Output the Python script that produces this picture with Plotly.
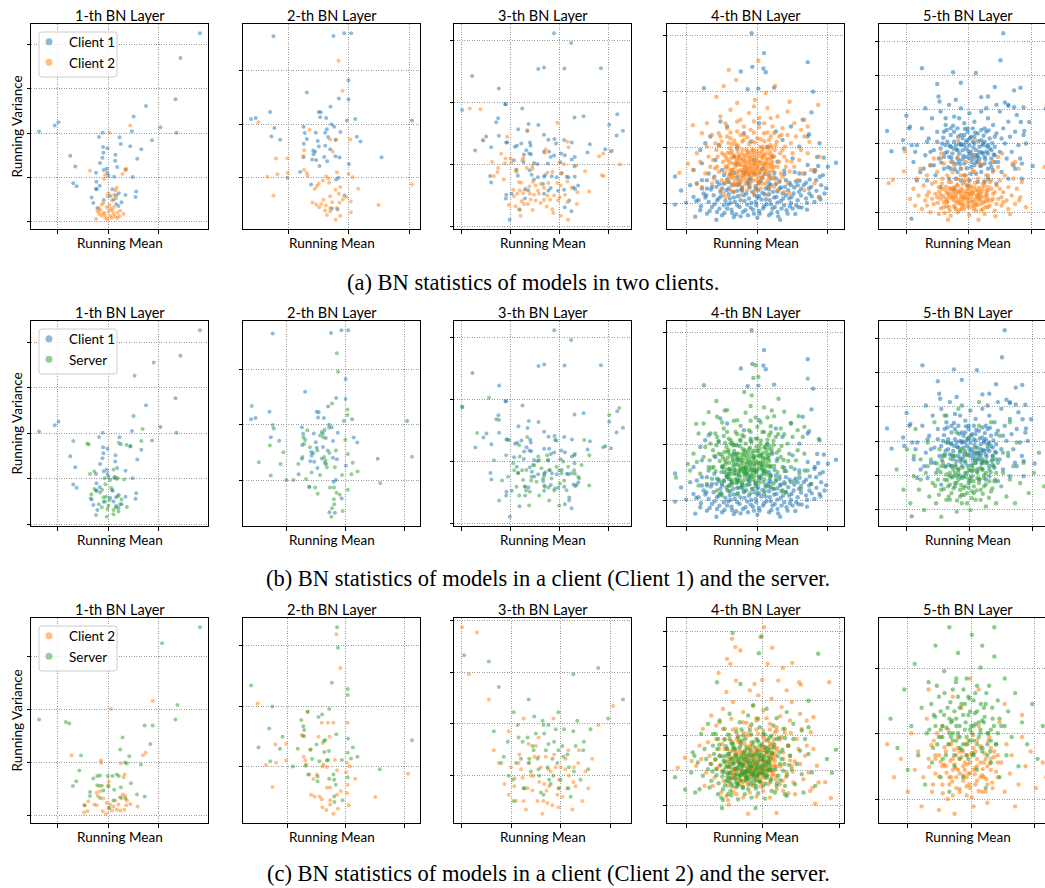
import plotly.graph_objects as go

# ---------------- data: (running mean, running variance), arbitrary units ----------------
# Layer 1
C1_L1 = [(424,562),(366,488),(351,365),(263,345),(226,314),(306,282),(354,265),(221,270),(281,243),(-56,269),
         (-9,287),(2,297),(134,265),(123,253),(184,252),(188,232),(216,225),(249,216),(237,188),(135,223),
         (148,219),(136,206),(172,200),(133,191),(171,182),(126,175),(37,197),(52,165),(146,158),(137,154),
         (177,163),(202,155),(114,146),(148,146),(151,137),(223,133),(168,134),(46,115),(56,106),(115,119),
         (125,107),(114,98),(116,97),(163,97),(182,85),(174,78),(156,77),(202,80),(234,90),(232,74),
         (101,72),(106,56),(137,65),(190,58),(174,53),(181,47),(118,41),(166,66)]
C2A_L1 = [(216,287),(154,266),(96,152),(141,139),(138,128),(193,142),(202,155),(204,158),(176,101),(172,93),
          (151,85),(148,76),(174,69),(136,56),(131,51),(146,43),(158,38),(126,35),(119,31),(124,23),
          (136,27),(151,31),(166,23),(178,27),(186,33),(196,23),(171,15),(161,11),(156,17),(142,12),
          (148,6),(114,8),(131,18),(184,16),(163,33),(154,50),(167,43),(140,22),(168,80),(162,63),(178,11),(122,41)]
SB_L1 = [(286,469),(229,430),(253,276),(46,241),(88,234),(92,231),(205,230),(217,227),(249,241),(182,236),
         (109,153),(96,146),(139,133),(176,131),(198,130),(156,128),(142,116),(166,159),(170,138),(178,134),
         (109,102),(100,87),(98,75),(132,100),(159,105),(163,99),(126,92),(144,80),(136,78),(154,70),
         (178,81),(190,72),(206,50),(122,58),(148,44),(166,41),(173,49),(181,37),(114,27),(146,22),
         (166,29),(186,58),(151,54),(131,49),(141,66)]
C2C_L1 = [(283,287),(159,266),(41,151),(129,138),(129,132),(262,157),(254,151),(188,131),(199,103),(196,96),
          (152,85),(149,74),(116,57),(126,61),(136,43),(146,32),(156,28),(171,38),(194,53),(201,49),
          (206,38),(216,29),(238,23),(91,36),(81,26),(109,28),(116,26),(78,8),(88,11),(144,5),
          (161,13),(176,15),(186,13),(198,15),(166,23),(151,19),(134,11),(181,28),(204,26),(190,43),(124,74),(119,49)]
SC_L1 = [(424,470),(311,430),(357,276),(351,240),(-56,240),(24,234),(34,230),(259,225),(283,225),(193,195),
         (276,179),(186,165),(213,148),(201,133),(206,130),(248,128),(69,150),(64,113),(55,86),(45,74),
         (106,93),(118,99),(126,100),(149,99),(163,99),(176,103),(182,99),(118,76),(131,75),(152,74),
         (168,65),(188,71),(218,81),(236,53),(259,48),(96,59),(96,49),(126,44),(136,63),(186,46),
         (202,43),(166,38),(154,19),(79,26)]

# Layer 2
C1_L2 = [(-44,421),(136,422),(168,430),(189,430),(181,290),(56,254),(152,236),(181,233),(127,211),(92,196),
         (98,195),(96,180),(114,178),(176,170),(201,175),(-111,175),(-97,178),(-54,196),(371,170),(130,159),
         (138,152),(-41,148),(46,152),(116,144),(157,136),(50,133),(83,134),(111,134),(-50,123),(-24,113),
         (56,115),(89,109),(120,121),(142,112),(206,122),(217,108),(47,101),(92,93),(111,95),(126,85),
         (75,81),(81,77),(76,70),(108,62),(142,64),(154,60),(280,61),(46,61),(72,54),(84,53),
         (117,49),(182,41),(94,35),(36,17),(-2,0),(144,-5),(151,0),(69,-20),(169,-53),(131,-92),(148,-94)]
C2A_L2 = [(151,348),(163,259),(-89,165),(64,143),(126,114),(144,114),(186,114),(-36,57),(-2,58),(48,82),
          (46,65),(134,78),(-62,3),(-32,10),(-1,15),(48,24),(56,14),(59,6),(114,4),(121,-2),
          (146,16),(181,11),(193,1),(92,-18),(86,-25),(123,-15),(80,-34),(104,-8),(142,-36),(152,-48),
          (126,-55),(106,-66),(73,-74),(84,-80),(93,-88),(99,-78),(113,-83),(132,-73),(154,-74),(164,-65),
          (175,-58),(188,-71),(210,-33),(-44,-54),(271,-81),(371,-20),(111,-98),(126,-101),(116,-111),(146,-90),
          (142,-125),(156,-113),(188,-103),(126,-90),(156,-28)]
SB_L2 = [(154,364),(158,311),(139,220),(187,203),(187,187),(-109,213),(-44,158),(63,143),(107,138),(130,150),
         (51,123),(53,104),(102,128),(112,123),(-53,99),(-11,80),(-87,51),(-20,46),(-50,13),(20,0),
         (35,46),(48,66),(59,3),(69,-19),(76,22),(87,-21),(95,-39),(94,85),(102,15),(115,66),
         (119,56),(121,46),(123,37),(133,-21),(145,-21),(151,85),(153,-36),(163,-42),(170,15),(180,116),
         (188,75),(188,-28),(203,50),(199,17),(218,25),(288,-8),(386,67),(145,-55),(146,-69),(139,-81),
         (137,-105),(172,-89),(131,78),(148,37),(71,94)]
C2C_L2 = [(152,348),(164,259),(-91,166),(64,144),(107,115),(126,115),(143,115),(187,115),(-36,58),(-3,60),
          (45,83),(53,80),(71,44),(97,78),(110,62),(131,78),(-65,4),(-34,10),(-3,16),(51,26),
          (56,16),(59,5),(112,5),(123,-1),(148,17),(185,10),(193,1),(69,-21),(92,-21),(109,0),
          (81,-33),(154,-10),(182,-15),(210,-32),(-45,-54),(272,-80),(373,-19),(74,-74),(85,-79),(100,-79),
          (107,-86),(123,-56),(133,-89),(154,-74),(166,-65),(185,-70),(190,-102),(109,-107),(121,-114),(133,-100),
          (143,-124),(157,-111),(133,-55),(187,-48)]
SC_L2 = [(154,366),(157,312),(138,220),(187,204),(187,188),(-111,213),(-45,158),(130,151),(108,137),(97,130),
         (63,144),(44,122),(50,106),(53,96),(50,80),(-55,100),(-14,78),(-88,50),(-22,47),(-52,14),
         (18,0),(33,47),(57,2),(65,-21),(77,20),(94,-26),(94,-39),(91,58),(100,14),(114,67),
         (118,70),(115,38),(126,17),(130,-32),(143,-21),(152,85),(145,-35),(150,-48),(169,17),(188,74),
         (187,36),(187,-28),(203,50),(197,21),(217,26),(286,-7),(385,69),(145,-79),(146,-93),(171,-89),
         (129,41),(123,16),(73,45)]

# Layer 3
C1_L3 = [(278,576),(329,547),(33,449),(231,470),(248,474),(309,471),(418,472),(113,412),(132,365),(134,365),
         (183,352),(3,348),(339,325),(366,329),(467,335),(111,323),(105,311),(202,306),(231,303),(171,290),
         (198,285),(248,274),(443,304),(75,269),(66,257),(113,271),(135,251),(138,251),(161,238),(167,241),
         (180,248),(206,251),(208,242),(261,259),(279,261),(284,248),(308,258),(331,251),(385,246),(465,272),
         (484,286),(90,237),(42,227),(195,228),(188,215),(204,218),(209,216),(248,223),(263,223),(268,208),
         (278,212),(299,218),(310,213),(340,208),(331,200),(378,221),(431,231),(448,225),(158,198),(187,193),
         (218,190),(228,187),(259,188),(297,192),(339,180),(87,151),(90,132),(166,170),(170,152),(205,168),
         (211,155),(218,141),(230,147),(248,149),(251,153),(271,150),(286,147),(301,160),(316,149),(321,147),
         (340,149),(135,95),(134,84),(151,98),(191,111),(201,108),(245,127),(268,115),(290,107),(308,110),
         (336,117),(350,123),(341,112),(323,78),(330,46),(310,58),(174,52),(145,21),(191,84),(248,98),(261,108)]
C2A_L3 = [(26,352),(58,350),(288,310),(198,287),(138,268),(65,258),(120,217),(133,203),(131,189),(148,203),
          (151,191),(186,205),(183,198),(250,220),(253,231),(318,253),(321,237),(295,191),(308,186),(413,210),
          (425,218),(451,226),(475,185),(93,193),(111,175),(109,163),(98,151),(128,141),(163,168),(166,163),
          (196,175),(213,181),(214,173),(258,161),(273,163),(300,158),(345,182),(371,165),(421,153),(426,151),
          (173,133),(180,131),(156,110),(176,108),(204,120),(215,133),(223,123),(238,128),(248,115),(261,130),
          (288,130),(298,123),(318,135),(331,115),(348,103),(383,105),(158,91),(168,98),(186,100),(206,98),
          (218,95),(233,98),(258,93),(278,93),(311,95),(208,81),(181,76),(200,68),(223,78),(248,80),
          (266,80),(290,78),(318,73),(346,68),(143,65),(163,61),(176,50),(188,68),(214,50),(256,60),
          (273,52),(276,41),(298,33),(320,21),(178,33),(295,88),(238,71),(230,108),(193,113)]
SB_L3 = [(2,348),(47,270),(83,375),(113,309),(143,249),(173,234),(197,258),(233,189),(263,159),(293,159),
         (338,204),(383,204),(425,228),(443,324),(473,345),(182,159),(209,129),(248,114),(278,99),(308,129),
         (233,84),(173,84),(122,129),(98,189),(293,54),(323,69),(353,135),(158,159),(218,174),(257,204),
         (281,249),(368,249),(134,204),(194,99),(263,69),(248,144),(338,159),(113,69),(383,114),(203,54),
         (140,140),(155,180),(165,110),(175,200),(185,130),(195,160),(205,95),(215,175),(225,125),(240,165),
         (250,110),(260,190),(270,135),(285,170),(295,120),(305,185),(315,100),(330,150),(345,115),(360,175),
         (210,140),(230,200),(245,135),(265,160),(280,105),(300,150),(320,170),(190,110),(170,150),(350,140)]
C2C_L3 = [(2,471),(47,459),(23,360),(83,300),(143,225),(188,255),(233,210),(278,255),(323,180),(413,240),
          (458,285),(173,150),(218,120),(263,135),(293,90),(338,105),(143,75),(188,60),(248,60),(293,45),
          (113,150),(98,180),(353,150),(383,90),(233,165),(257,84),(203,195),(161,114),(314,135),
          (130,100),(150,140),(165,60),(175,170),(185,115),(195,40),(205,150),(215,85),(225,190),(235,105),
          (245,30),(255,165),(265,95),(275,50),(285,140),(295,110),(305,70),(315,160),(325,120),(335,40),
          (345,95),(355,180),(365,60),(375,130),(395,160),(210,120),(230,60),(250,100),(270,130),(290,75),
          (240,140),(260,55),(280,170),(200,90),(220,165),(300,140),(320,90),(180,135),(160,95),(340,140)]
SC_L3 = [(8,405),(83,390),(113,330),(158,270),(203,300),(248,240),(293,270),(338,360),(413,375),(443,255),
         (488,300),(173,210),(218,180),(263,195),(308,165),(128,165),(233,135),(278,120),(323,90),(188,90),
         (143,120),(248,75),(293,180),(368,180),(98,225),(203,150),(263,240),(338,225),(158,60),(383,135),
         (120,150),(140,200),(155,110),(170,240),(180,160),(190,90),(200,210),(210,130),(220,260),(230,160),
         (240,80),(250,220),(260,140),(270,100),(280,200),(290,150),(300,110),(310,230),(320,170),(330,70),
         (340,130),(350,250),(360,110),(370,200),(390,230),(215,190),(235,120),(255,180),(275,160),(295,90),
         (245,250),(265,110),(285,230),(205,160),(225,220),(305,190),(325,140),(185,200),(165,150),(345,190)]

# Layer 4
C1_L4 = [(193,508),(230,449),(360,422),(195,408),(228,403),(235,392),(161,394),(51,344),(181,341),(376,334),
         (213,343),(260,346),(371,272),(364,207),(444,122),(408,137),(388,139),(391,112),(-35,81),(-17,39),
         (-35,-3),(-2,3),(25,-39),(88,-48),(278,-48),(358,-18),(333,-11),(323,-31),
         (40,-20),(60,-30),(75,-10),(90,-25),(105,-35),(120,-15),(135,-28),(150,-5),(160,-38),(175,-20),
         (190,-12),(200,-30),(215,-22),(230,-8),(245,-35),(255,-15),(270,-25),(290,-5),(300,-30),(315,-15),
         (140,-40),(210,-42),(180,-3),(250,-2),(110,-5),
         (20,20),(35,10),(50,30),(65,5),(80,25),(95,15),(100,35),(115,8),(125,28),(140,18),
         (150,38),(160,10),(170,25),(185,15),(195,35),(205,5),(215,22),(225,32),(235,12),(245,28),
         (260,18),(270,36),(280,8),(295,25),(305,15),(318,30),(330,10),(340,24),(355,15),(365,30),
         (380,5),(395,20),(310,2),(130,2),(270,3),
         (10,55),(30,60),(45,45),(60,70),(75,50),(90,65),(105,45),(120,72),(135,55),(150,78),
         (165,48),(180,62),(190,75),(205,52),(220,68),(235,45),(250,75),(265,58),(280,48),(295,70),
         (310,55),(325,66),(340,44),(355,62),(370,50),(385,70),(400,55),(415,46),
         (20,100),(45,120),(65,90),(85,130),(105,100),(130,88),(150,120),(175,95),(200,130),(225,105),
         (245,85),(270,125),(290,98),(315,135),(335,90),(360,115),(380,95),(405,85),(420,110),(140,140),(255,140),
         (40,160),(70,200),(95,175),(120,230),(150,165),(170,210),(190,185),(215,240),(240,170),(265,215),
         (285,190),(310,230),(335,170),(360,200),(395,180),(345,250),(100,245),(55,180),
         (28,8),(42,-8),(55,18),(68,-22),(72,42),(83,-2),(88,50),(97,-15),(102,22),(112,-28),
         (118,40),(123,-3),(128,15),(133,-18),(138,35),(143,5),(147,-32),(152,22),(157,-10),(162,42),
         (167,-25),(172,8),(177,30),(182,-35),(187,48),(192,2),(197,-18),(202,25),(207,-5),(212,40),
         (217,-30),(222,12),(227,-15),(232,28),(237,-2),(242,50),(247,10),(252,-28),(257,35),(262,-10),
         (267,20),(272,-38),(277,45),(282,-15),(287,15),(292,50),(297,-20),(302,40),(307,-8),(312,20),
         (320,48),(326,-5),(334,35),(342,-12),(348,55),(358,2),(364,45),(372,22),(386,38),(398,12),
         (410,30),(45,70),(58,25),(82,80),(97,58),(111,85),(126,64),(141,92),(156,60),(171,86),
         (186,58),(201,90),(216,62),(231,88),(246,60),(261,92),(276,65),(291,88),(306,62),(321,94),
         (336,68),(351,90),(366,72),(381,100),(396,80),(125,45),(165,38),(205,44),(245,42),(285,30),
         (330,55),(90,10),(60,45),(185,70),(225,78),(265,75),(150,55),(110,60),(210,18),(250,55)]
C2A_L4 = [(213,426),(125,399),(147,369),(110,351),(263,351),(88,319),(306,304),(391,294),(203,309),(150,300),
          (235,330),(-22,92),(3,119),(18,234),(30,60),(393,19),(383,99),(365,184),(395,140),(350,250),
          (115,60),(125,80),(135,100),(145,120),(155,140),(165,160),(175,70),(185,90),(195,110),(205,130),
          (215,150),(225,170),(235,60),(245,80),(255,100),(120,130),(130,150),(140,75),(150,95),(160,115),
          (170,135),(180,155),(190,65),(200,85),(210,105),(220,125),(230,145),(240,165),(250,120),(260,140),
          (118,105),(128,165),(138,58),(148,170),(158,55),(168,95),(178,118),(188,140),(198,160),(208,70),
          (218,92),(228,112),(238,135),(248,155),(258,75),(112,145),(122,112),(132,90),(142,140),(152,68),
          (162,82),(172,145),(182,108),(192,128),(202,148),(212,58),(222,78),(232,98),(242,118),(252,168),
          (173,109),(186,124),(164,100),(196,96),(154,130),(206,116),(144,110),(226,136),(236,88),(176,88),
          (55,90),(65,140),(75,60),(85,180),(90,110),(100,40),(100,200),(105,150),(110,30),(60,170),
          (70,110),(80,75),(95,210),(270,40),(280,90),(290,140),(300,60),(310,180),(320,110),(330,70),
          (275,200),(285,160),(295,110),(305,30),(315,150),(325,200),(335,130),(265,175),(250,200),(230,210),
          (210,195),(190,220),(170,205),(150,215),(130,195),(120,225),(140,35),(160,25),(180,40),(200,30),
          (220,45),(240,25),(260,50),(130,40),(115,20),(195,185),(215,228),(255,230),(285,225),(165,185),
          (135,178),(245,190),(345,90),(340,160),(350,40),(45,50),(40,125),(275,125),(265,60),(290,35),
          (100,260),(130,280),(160,250),(185,270),(215,255),(240,285),(270,260),(300,275),(320,240),(340,220),
          (200,290),(60,240),(75,205),(360,230),(45,210),(30,150),(20,100),(370,100),(380,60),(360,150),(350,200),
          (113,92),(117,138),(121,66),(124,181),(127,124),(131,77),(134,157),(137,101),(141,188),(143,63),
          (147,131),(151,86),(153,172),(157,118),(159,71),(163,148),(166,92),(169,190),(171,124),(174,58),
          (177,161),(179,103),(183,79),(185,177),(187,133),(191,96),(193,150),(197,69),(199,118),(203,182),
          (206,88),(209,140),(211,110),(214,64),(217,168),(219,99),(223,155),(226,77),(229,121),(231,186),
          (234,104),(237,150),(241,70),(243,132),(247,94),(249,175),(253,112),(256,143),(259,83),(262,160),
          (116,110),(129,100),(139,145),(149,115),(161,135),(168,78),(181,95),(189,116),(195,160),(201,104),
          (213,126),(221,140),(233,115),(245,108),(255,125),(139,85),(151,155),(165,128),(179,142),(191,84),
          (205,98),(218,118),(227,163),(239,96),(251,136),(122,152),(136,120),(156,98),(170,112),(184,152),
          (198,138),(212,80),(224,102),(236,124),(248,146),(260,110),(128,88),(146,178),(162,66),(176,128),
          (188,104),(202,122),(216,92),(228,144),(242,168),(132,135),(154,143),(172,100),(186,88),(208,156),
          (78,130),(88,160),(96,95),(104,185),(108,125),(270,110),(278,150),(286,80),(298,128),(306,95),
          (268,185),(282,205),(300,205),(104,70),(92,140),(84,105),(98,172),(276,70),(292,170),(312,125),
          (160,205),(180,198),(200,212),(220,192),(240,212),(130,212),(120,200),(260,210),(170,230),(200,245),
          (230,240),(150,245),(115,240),(250,255),(145,55),(165,45),(185,52),(205,42),(225,60),(245,48)]
SB_L4 = [(205,404),(213,369),(198,366),(360,364),(171,324),(193,314),(88,297),(65,264),(273,304),(333,252),
         (393,184),(3,109),(-32,69),(28,229),(253,269),(113,269),
         (105,50),(118,72),(128,95),(138,118),(148,140),(158,162),(168,60),(178,82),(188,104),(198,126),
         (208,148),(218,168),(228,55),(238,78),(248,100),(112,122),(122,145),(132,62),(142,84),(152,106),
         (162,128),(172,150),(182,48),(192,70),(202,92),(212,114),(222,136),(232,158),(242,125),(252,145),
         (108,98),(118,160),(128,45),(138,165),(148,52),(158,88),(168,112),(178,135),(188,158),(198,62),
         (208,85),(218,105),(228,128),(238,150),(248,68),(102,138),(115,108),(125,80),(135,132),(145,64),
         (155,76),(165,140),(175,100),(185,120),(195,142),(205,50),(215,72),(225,92),(235,112),(245,160),
         (168,99),(180,115),(158,95),(190,90),(150,125),(200,110),(140,102),(220,130),(230,82),(170,80),
         (40,80),(50,130),(60,50),(70,170),(80,100),(90,30),(90,190),(95,140),(100,20),(55,160),
         (65,100),(75,65),(85,200),(260,35),(270,85),(280,130),(290,55),(300,170),(310,100),(320,60),
         (265,190),(275,150),(285,100),(295,25),(305,140),(315,190),(325,120),(258,165),(245,195),(225,205),
         (205,185),(185,210),(165,195),(145,205),(125,185),(110,215),(130,28),(150,18),(170,30),(190,22),
         (210,35),(230,20),(250,40),(120,32),(105,15),(190,178),(210,220),(250,222),(280,215),(160,178),
         (130,170),(240,182),(335,80),(330,150),(340,35),(35,45),(30,115),(268,118),(258,50),(282,28),
         (90,250),(120,270),(150,240),(175,262),(205,248),(230,278),(260,252),(290,265),(310,232),(330,210),
         (190,282),(50,230),(65,195),(350,220),(35,200),(20,140),(10,90),(360,90),(370,50),(350,140),(345,190),
         (103,85),(107,130),(111,58),(114,172),(117,115),(121,70),(124,150),(127,94),(131,180),(133,55),
         (137,124),(141,79),(143,165),(147,110),(149,63),(153,140),(156,85),(159,182),(161,117),(164,51),
         (167,154),(169,96),(173,72),(175,170),(177,126),(181,89),(183,143),(187,62),(189,111),(193,175),
         (196,81),(199,133),(201,103),(204,57),(207,161),(209,92),(213,148),(216,70),(219,114),(221,179),
         (224,97),(227,143),(231,63),(233,125),(237,87),(239,168),(243,105),(246,136),(249,76),(252,153),
         (106,103),(119,93),(129,138),(139,108),(151,128),(158,71),(171,88),(179,109),(185,153),(191,97),
         (203,119),(211,133),(223,108),(235,101),(245,118),(129,78),(141,148),(155,121),(169,135),(181,77),
         (195,91),(208,111),(217,156),(229,89),(241,129),(112,145),(126,113),(146,91),(160,105),(174,145),
         (188,131),(202,73),(214,95),(226,117),(238,139),(250,103),(118,81),(136,171),(152,59),(166,121),
         (178,97),(192,115),(206,85),(218,137),(232,161),(122,128),(144,136),(162,93),(176,81),(198,149),
         (68,120),(78,150),(86,88),(94,178),(98,118),(260,103),(268,143),(276,73),(288,121),(296,88),
         (258,178),(272,198),(290,198),(94,63),(82,133),(74,98),(88,165),(266,63),(282,163),(302,118),
         (150,198),(170,191),(190,205),(210,185),(230,205),(120,205),(110,193),(250,203),(160,223),(190,238),
         (220,233),(140,238),(105,233),(240,248),(135,48),(155,38),(175,45),(195,35),(215,53),(235,41)]
C2C_L4 = [(232,533),(222,504),(137,499),(147,474),(257,472),(162,464),(122,439),(317,427),(243,424),(132,424),
          (289,412),(97,397),(427,369),(337,369),(342,362),(275,374),(227,376),(204,364),(149,374),(-25,114),
          (-3,144),(17,134),(432,24),(415,71),(377,54),(385,7),(185,-23),(270,-21),(127,4),
          (125,60),(135,85),(145,110),(155,135),(165,160),(175,185),(185,70),(195,95),(205,120),(215,145),
          (225,170),(235,195),(245,65),(255,90),(265,115),(130,140),(140,165),(150,80),(160,105),(170,130),
          (180,155),(190,180),(200,60),(210,85),(220,110),(230,135),(240,160),(250,185),(260,140),(270,165),
          (128,115),(138,190),(148,55),(158,195),(168,62),(178,100),(188,125),(198,150),(208,175),(218,72),
          (228,98),(238,122),(248,148),(258,172),(268,80),(122,170),(132,125),(142,100),(152,158),(162,75),
          (172,92),(182,168),(192,115),(202,138),(212,162),(222,58),(232,84),(242,106),(252,130),(262,198),
          (197,114),(210,130),(186,108),(220,100),(176,140),(230,122),(166,118),(250,150),(260,95),(200,95),
          (60,100),(70,150),(80,60),(90,200),(100,120),(105,40),(110,230),(115,170),(120,30),(65,190),
          (75,125),(85,85),(100,250),(290,45),(300,100),(310,150),(320,70),(330,200),(340,125),(350,80),
          (295,230),(305,180),(315,120),(325,35),(335,170),(345,230),(355,150),(285,205),(270,235),(250,245),
          (230,225),(210,255),(190,235),(170,250),(150,230),(135,260),(150,35),(170,25),(190,40),(210,28),
          (230,45),(250,25),(270,50),(140,42),(125,18),(215,215),(240,262),(280,268),(310,255),(180,215),
          (155,210),(265,220),(365,100),(360,180),(370,45),(55,60),(45,140),(290,140),(280,65),(305,38),
          (110,290),(140,310),(170,280),(200,300),(230,285),(255,320),(285,295),(315,310),(340,275),(360,255),
          (215,330),(75,270),(90,240),(380,265),(50,230),(40,180),(30,120),(390,120),(395,70),(380,170),
          (372,220),(190,345),(120,340),(300,345),
          (123,98),(127,147),(131,72),(134,193),(137,131),(141,83),(144,166),(147,110),(151,200),(153,68),
          (157,139),(161,93),(163,182),(167,125),(169,77),(173,158),(176,101),(179,205),(181,133),(184,63),
          (187,171),(189,111),(193,87),(195,190),(197,143),(201,104),(203,160),(207,75),(209,127),(213,196),
          (216,96),(219,150),(221,118),(224,70),(227,180),(229,108),(233,166),(236,85),(239,131),(241,199),
          (244,112),(247,162),(251,78),(253,142),(257,102),(259,187),(263,121),(266,154),(269,90),(272,173),
          (126,118),(139,108),(149,155),(159,123),(171,145),(178,85),(191,103),(199,125),(205,172),(211,112),
          (223,136),(231,150),(243,124),(255,116),(265,134),(149,93),(161,166),(175,137),(189,152),(201,91),
          (215,106),(228,128),(237,175),(249,104),(261,146),(132,163),(146,130),(166,106),(180,120),(194,163),
          (208,148),(222,87),(234,110),(246,133),(258,158),(270,118),(138,95),(156,191),(172,72),(186,137),
          (198,112),(212,131),(226,99),(238,154),(252,180),(142,145),(164,154),(182,108),(196,94),(218,168),
          (88,140),(98,170),(106,102),(114,200),(118,135),(282,118),(290,160),(298,86),(310,136),(318,102),
          (280,198),(294,218),(312,218),(112,75),(100,150),(92,112),(108,184),(288,75),(304,180),(324,133),
          (170,220),(190,212),(210,228),(230,205),(250,228),(140,228),(130,212),(270,225),(180,248),(210,262)]
SC_L4 = [(139,516),(225,506),(217,456),(394,454),(92,369),(162,364),(365,314),(-33,86),(-3,49),(447,168),
         (435,99),(107,-6),(207,-6),(27,40),(20,160),(420,140),
         (110,50),(120,75),(130,100),(140,125),(150,150),(160,175),(170,55),(180,80),(190,105),(200,130),
         (210,155),(220,180),(230,60),(240,85),(250,110),(115,130),(125,155),(135,65),(145,90),(155,115),
         (165,140),(175,165),(185,50),(195,75),(205,100),(215,125),(225,150),(235,175),(245,130),(255,155),
         (112,100),(122,170),(132,45),(142,172),(152,58),(162,92),(172,118),(182,142),(192,168),(202,66),
         (212,90),(222,112),(232,136),(242,160),(252,72),(108,148),(118,115),(128,85),(138,140),(148,70),
         (158,82),(168,150),(178,104),(188,128),(198,150),(208,52),(218,76),(228,96),(238,118),(248,168),
         (177,104),(190,120),(168,98),(200,94),(160,128),(210,112),(150,106),(230,140),(240,92),(180,86),
         (50,90),(60,140),(70,55),(80,180),(90,110),(95,35),(95,200),(100,150),(105,25),(55,170),
         (65,110),(75,75),(88,215),(265,40),(275,90),(285,140),(295,60),(305,180),(315,110),(325,65),
         (270,200),(280,160),(290,105),(300,30),(310,150),(320,200),(330,125),(262,175),(250,205),(230,215),
         (210,200),(190,225),(170,210),(150,220),(130,200),(115,230),(135,32),(155,20),(175,35),(195,25),
         (215,38),(235,22),(255,45),(125,35),(110,18),(200,190),(220,235),(260,240),(290,230),(165,195),
         (140,185),(245,195),(345,95),(340,165),(350,40),(40,50),(35,130),(280,125),(270,60),(295,35),
         (100,255),(130,275),(160,250),(185,270),(215,260),(240,290),(270,262),(300,280),(320,245),(345,225),
         (200,300),(65,245),(80,215),(365,235),(45,215),(25,150),(15,100),(375,100),(385,60),(365,155),(355,200),
         (108,88),(112,135),(116,62),(119,178),(122,120),(126,73),(129,155),(132,98),(136,186),(138,58),
         (142,128),(146,82),(148,170),(152,114),(154,66),(158,145),(161,90),(164,188),(166,121),(169,54),
         (172,159),(174,100),(178,76),(180,175),(182,131),(186,93),(188,148),(192,65),(194,116),(198,180),
         (201,85),(204,138),(206,107),(209,60),(212,166),(214,96),(218,152),(221,73),(224,119),(226,184),
         (229,101),(232,148),(236,67),(238,129),(242,91),(244,173),(248,109),(251,141),(254,80),(257,158),
         (111,106),(124,96),(134,142),(144,112),(156,132),(163,75),(176,92),(184,113),(190,157),(196,101),
         (208,123),(216,137),(228,112),(240,105),(250,122),(134,82),(146,152),(160,125),(174,139),(186,81),
         (200,95),(213,115),(222,160),(234,93),(246,133),(117,149),(131,117),(151,95),(165,109),(179,149),
         (193,135),(207,77),(219,99),(231,121),(243,143),(255,107),(123,85),(141,175),(157,63),(171,125),
         (183,101),(197,119),(211,89),(223,141),(237,165),(127,132),(149,140),(167,97),(181,85),(203,153),
         (73,125),(83,155),(91,92),(99,183),(103,122),(265,108),(273,148),(281,77),(293,125),(301,92),
         (263,183),(277,203),(295,203),(97,68),(87,138),(79,103),(93,170),(271,68),(287,168),(307,122),
         (155,205),(175,198),(195,213),(215,192),(235,213),(125,213),(115,198),(255,210),(165,228),(195,243)]

# Layer 5
C1_L5 = [(285,533),(277,453),(45,429),(137,417),(204,415),(90,382),(160,386),(260,373),(317,363),(336,371),
         (220,343),(240,345),(94,345),(97,330),(145,335),(55,310),(290,327),(300,317),(317,313),(345,312),
         (411,309),(-58,242),(-45,182),(-1,288),(7,250),(337,269),(362,269),(347,242),(352,205),(340,145),
         (372,138),(14,-19),(-8,190),(-11,215),
         (20,150),(30,200),(40,120),(45,250),(55,170),(60,95),(65,220),(70,140),(75,280),(80,185),
         (85,110),(90,240),(95,160),(100,300),(100,75),(105,205),(110,130),(115,260),(120,180),(125,100),
         (125,320),(130,230),(135,150),(140,285),(140,70),(145,200),(150,120),(150,250),(155,175),(160,310),
         (160,95),(165,220),(170,145),(170,265),(175,190),(180,80),(180,240),(185,160),(185,295),(190,115),
         (195,210),(200,140),(200,270),(205,185),(210,90),(210,235),(215,160),(220,300),(220,120),(225,205),
         (230,250),(230,145),(235,180),(240,100),(240,280),(245,220),(250,160),(255,125),(255,260),(260,195),
         (265,85),(265,235),(270,150),(275,300),(275,180),(280,120),(285,250),(290,205),(295,160),(300,100),
         (300,270),(305,225),(310,180),(315,140),(320,240),(325,290),(330,200),(335,160),(120,210),(135,175),
         (145,145),(155,205),(165,185),(175,165),(185,200),(195,170),(205,150),(215,195),(225,175),(110,165),
         (130,195),(150,160),(170,200),(190,180),(210,170),(230,210),(250,185),(140,240),(160,230),(180,215),
         (200,225),(220,245),(240,200),(260,170),(280,220),(100,190),(90,210),(80,140),(70,180),(60,210),
         (50,130),(115,280),(155,280),(195,250),(235,310),(265,320),(300,320),(130,130),(160,130),(190,135),
         (220,140),(250,135),(170,110),(205,115),(240,130),(145,100),(185,95),(230,90),(30,95),(15,200),
         (320,130),(340,100),(345,230),(10,255),(25,180),
         (102,148),(108,222),(113,176),(118,245),(122,134),(127,198),(132,162),(137,258),(142,128),(147,187),
         (152,226),(157,143),(162,203),(167,168),(172,248),(177,131),(182,182),(187,221),(192,149),(197,193),
         (202,237),(207,162),(212,212),(217,138),(222,178),(227,228),(232,158),(237,196),(242,244),(247,146),
         (252,206),(257,172),(125,165),(140,210),(155,152),(170,230),(185,172),(200,205),(215,180),(230,165),
         (245,190),(138,190),(165,158),(190,225),(210,150),(235,240),(160,200),(180,250),(205,170),(225,200),
         (115,200),(130,250),(150,185),(175,210),(195,160),(220,215),(240,175),(260,225),(110,240),(260,150)]
C2A_L5 = [(-53,87),(-41,97),(-8,122),(-5,182),(407,135),(417,65),(122,-22),(212,-22),(262,-12),(352,15),
          (332,35),(102,175),(152,215),(202,215),(282,175),(312,145),
          (10,40),(20,70),(25,20),(30,100),(35,50),(40,130),(45,10),(50,80),(55,35),(60,110),
          (65,60),(70,0),(70,140),(75,85),(80,25),(85,55),(90,120),(95,-5),(95,75),(100,40),
          (105,100),(110,15),(110,145),(115,65),(120,30),(125,90),(130,50),(130,-10),(135,120),(140,20),
          (140,75),(145,45),(150,100),(150,0),(155,60),(160,30),(160,130),(165,85),(170,10),(170,55),
          (175,110),(180,35),(180,70),(185,-8),(185,95),(190,50),(195,20),(195,125),(200,75),(205,40),
          (205,5),(210,100),(215,60),(220,25),(220,140),(225,85),(230,45),(230,-5),(235,110),(240,65),
          (240,15),(245,90),(250,35),(255,120),(255,55),(260,5),(265,80),(270,40),(270,135),(275,95),
          (280,20),(285,60),(290,110),(295,35),(300,75),(305,-5),(310,50),(315,100),(320,25),(325,70),
          (330,130),(335,45),(340,90),(120,55),(130,70),(140,35),(150,80),(160,45),(170,90),(180,55),
          (190,75),(200,30),(210,65),(220,50),(230,80),(240,40),(250,70),(115,40),(135,60),(155,25),
          (175,45),(195,60),(215,35),(235,55),(125,15),(145,10),(165,20),(185,15),(205,25),(225,10),
          (245,20),(105,70),(165,65),(210,45),(260,60),(90,45),(280,45),(60,20),(300,10),(175,150),
          (215,150),(130,150),(255,150),(100,160),(150,165),(200,170),(270,165),(80,160),(320,150),
          (92,28),(96,62),(101,12),(104,85),(108,47),(112,-2),(116,76),(119,33),(123,58),(127,5),
          (131,90),(134,41),(138,67),(142,14),(146,52),(149,82),(153,36),(157,6),(161,70),(164,48),
          (168,24),(172,95),(176,62),(179,18),(183,42),(187,80),(191,31),(195,55),(198,9),(202,88),
          (206,50),(210,22),(214,73),(218,40),(222,62),(226,30),(229,92),(233,16),(237,50),(241,75),
          (118,18),(128,72),(137,48),(148,30),(158,58),(166,38),(177,80),(186,56),(194,38),(203,66),
          (212,54),(224,72),(232,32),(124,44),(144,60),(163,12),(182,28),(201,18),(220,6),(239,34),
          (100,52),(110,30),(150,65),(170,42),(190,65),(215,48),(235,65),(255,40),(265,25),(275,70),
          (285,30),(60,50),(75,40),(85,90),(250,95),(160,110),(200,120),(120,110),(240,110),(140,140)]
SB_L5 = [(-30,120),(-10,60),(0,180),(10,20),(20,100),(25,240),(35,60),(40,150),(50,0),(55,110),
         (60,200),(65,40),(70,150),(75,80),(80,260),(85,20),(90,120),(95,180),(100,60),(100,-20),
         (105,140),(110,90),(115,30),(120,200),(125,110),(130,50),(135,160),(140,80),(145,-5),(145,230),
         (150,120),(155,60),(160,180),(160,20),(165,100),(170,140),(175,50),(180,210),(180,90),(185,0),
         (190,130),(195,70),(200,170),(200,30),(205,110),(210,250),(215,60),(220,150),(225,95),(230,10),
         (235,190),(240,120),(245,55),(250,160),(255,85),(260,20),(265,140),(270,220),(275,70),(280,110),
         (290,40),(295,170),(300,90),(310,130),(315,20),(320,200),(330,80),(340,140),(355,50),(370,110),
         (385,170),(400,70),(120,70),(130,130),(150,90),(170,70),(190,100),(210,80),(230,140),(140,110),
         (160,150),(180,120),(200,140),(220,120),(110,160),(125,30),(175,20),(215,30),(260,110),(280,170),
         (90,90),(60,130),(240,85),(135,100),(155,40),(195,50),(245,260),(150,300),(210,320),(110,280),
         (300,260),(40,90),(20,160),
         (82,72),(87,138),(93,45),(98,112),(104,160),(108,62),(113,128),(117,88),(122,40),(127,152),
         (131,96),(136,64),(141,135),(146,28),(150,108),(154,172),(158,74),(163,126),(167,44),(171,98),
         (176,162),(180,66),(185,118),(189,35),(194,86),(198,150),(203,58),(207,122),(212,92),(216,168),
         (221,48),(226,104),(230,76),(235,140),(239,36),(244,112),(249,64),(253,130),(258,90),(145,80),
         (125,75),(135,120),(155,100),(165,65),(175,110),(185,85),(195,120),(205,95),(215,125),(225,70),
         (115,105),(140,160),(170,175),(200,185),(230,110),(100,130),(190,55),(160,45),(220,145),(250,150)]
C2C_L5 = [(-60,150),(-40,60),(-20,110),(0,20),(10,180),(20,80),(30,130),(40,-20),(45,60),(55,220),
          (60,110),(70,20),(75,160),(80,70),(90,-30),(90,120),(100,40),(100,200),(110,90),(115,0),
          (120,150),(125,60),(130,110),(135,-40),(140,30),(145,80),(150,130),(155,250),(160,50),(165,100),
          (170,10),(175,160),(180,70),(185,120),(190,-20),(195,40),(200,90),(205,200),(210,140),(215,20),
          (220,60),(225,110),(230,-10),(235,170),(240,80),(245,30),(250,130),(260,60),(265,210),(270,100),
          (280,20),(285,150),(295,70),(300,120),(310,-20),(320,40),(330,170),(340,90),(355,130),(370,30),
          (390,100),(400,60),(120,40),(140,120),(160,90),(180,30),(200,50),(220,100),(150,70),(170,60),
          (190,80),(130,80),(110,130),(210,60),(240,110),(260,100),(100,90),(80,110),(170,120),(150,20),
          (195,130),(230,40),(205,300),(130,280),(280,260),(60,300),(180,330),(330,230),
          (62,88),(68,148),(73,40),(79,120),(84,180),(90,62),(95,102),(101,16),(106,142),(112,72),
          (117,190),(123,105),(128,48),(134,135),(139,84),(145,170),(150,28),(156,115),(161,65),(167,150),
          (172,95),(178,40),(183,125),(189,175),(194,68),(200,110),(205,22),(211,145),(216,82),(222,125),
          (227,55),(233,160),(238,98),(244,45),(249,115),(255,75),(120,60),(135,95),(150,110),(165,80),
          (180,100),(195,85),(210,100),(140,60),(160,130),(175,70),(125,150),(190,140),(215,65),(230,90),
          (105,95),(145,140),(170,35),(200,160),(240,140),(95,170),(130,10),(185,5),(225,20),(260,120)]
SC_L5 = [(-50,220),(-30,140),(-10,300),(0,80),(10,200),(20,370),(30,120),(40,250),(50,40),(55,180),
         (60,320),(70,100),(75,230),(80,420),(85,150),(90,280),(95,60),(100,200),(105,350),(110,120),
         (115,250),(120,20),(125,170),(130,300),(135,90),(140,220),(145,400),(150,140),(155,260),(160,60),
         (165,190),(170,330),(175,110),(180,240),(185,450),(190,160),(195,290),(200,80),(205,210),(210,360),
         (215,130),(220,250),(225,30),(230,180),(235,310),(240,100),(245,220),(250,390),(255,150),(260,270),
         (265,60),(270,200),(280,330),(285,120),(290,240),(300,170),(310,290),(320,90),(330,210),(345,150),
         (360,260),(375,110),(390,200),(405,300),(130,180),(150,200),(170,170),(190,200),(210,180),(160,230),
         (180,190),(140,160),(200,150),(220,210),(120,220),(240,160),(100,170),(260,180),(150,110),(190,120),
         (230,120),(80,200),(280,200),(175,280),(140,330),(215,420),(120,470),(250,470),
         (62,190),(68,260),(73,140),(79,225),(84,310),(90,170),(95,240),(101,110),(106,290),(112,195),
         (117,150),(123,265),(128,215),(134,120),(139,320),(145,180),(150,250),(156,135),(161,300),(167,210),
         (172,150),(178,275),(183,200),(189,125),(194,235),(200,310),(205,170),(211,260),(216,140),(222,225),
         (227,290),(233,180),(238,130),(244,250),(249,200),(255,150),(120,180),(135,240),(150,170),(165,260),
         (180,160),(195,205),(210,190),(140,200),(160,150),(175,230),(125,210),(190,270),(215,215),(230,150),
         (105,230),(145,280),(170,120),(200,240),(240,190),(95,190),(130,160),(185,180),(225,260),(265,220)]

LAYER_TITLES = ["1-th BN Layer", "2-th BN Layer", "3-th BN Layer", "4-th BN Layer", "5-th BN Layer"]
CLIENT1 = [C1_L1, C1_L2, C1_L3, C1_L4, C1_L5]
CLIENT2_A = [C2A_L1, C2A_L2, C2A_L3, C2A_L4, C2A_L5]
SERVER_B = [SB_L1, SB_L2, SB_L3, SB_L4, SB_L5]
CLIENT2_C = [C2C_L1, C2C_L2, C2C_L3, C2C_L4, C2C_L5]
SERVER_C = [SC_L1, SC_L2, SC_L3, SC_L4, SC_L5]
ROW_SERIES = [
    [("Client 1", CLIENT1), ("Client 2", CLIENT2_A)],
    [("Client 1", CLIENT1), ("Server", SERVER_B)],
    [("Client 2", CLIENT2_C), ("Server", SERVER_C)],
]
CAPTIONS = ["(a) BN statistics of models in two clients.",
            "(b) BN statistics of models in a client (Client 1) and the server.",
            "(c) BN statistics of models in a client (Client 2) and the server."]
# grid (tick) spacing in data units, per row and layer
MEAN_STEP = [[150, 181.5, 147.3, 210, 183.5],
             [150, 181.5, 147.3, 210, 183.5],
             [150, 181.5, 150, 228.5, 183]]
VAR_STEP = [[132, 159, 184.7, 167, 102],
            [132, 159, 184.7, 167, 102],
            [132, 159, 121.5, 104.4, 178.5]]

COLORS = {"Client 1": "#1f77b4", "Client 2": "#ff7f0e", "Server": "#2ca02c"}

# ---------------- layout geometry (pixels on the page) ----------------
W, H = 1045, 888
PANEL_LEFT = [31, 243, 454, 667, 879]
PANEL_W, PANEL_H = 177, 205
ROW_TOP = [24, 321, 618]
CAPTION_Y = [282, 578, 873]
CAPTION_X = [533, 548, 548]
SANS = "Lato"
SERIF = "Liberation Serif"


def px_x(v):
    return v / W


def px_y(v):
    return 1 - v / H


def padded(vals, frac=0.05):
    lo, hi = min(vals), max(vals)
    p = (hi - lo) * frac
    return [lo - p, hi + p]


fig = go.Figure()
layout = {}
annotations = []
shapes = []
legend_names = ["legend", "legend2", "legend3"]

for r in range(3):
    for c in range(5):
        idx = r * 5 + c + 1
        xa, ya = f"x{idx}", f"y{idx}"
        dense = c >= 3
        allx, ally = [], []
        for name, per_layer in ROW_SERIES[r]:
            pts = per_layer[c]
            xs = [p[0] for p in pts]
            ys = [p[1] for p in pts]
            allx += xs
            ally += ys
            fig.add_trace(go.Scatter(
                x=xs, y=ys, mode="markers", xaxis=xa, yaxis=ya, showlegend=False,
                marker=dict(color=COLORS[name], size=4.4 if dense else 4.0,
                            opacity=0.55 if dense else 0.5, line=dict(width=0)),
                hoverinfo="skip"))
        left = PANEL_LEFT[c]
        right = min(left + PANEL_W, W)
        top = ROW_TOP[r]
        xr = padded(allx)
        if left + PANEL_W > W:
            frac = (W - left) / PANEL_W
            xr = [xr[0], xr[0] + (xr[1] - xr[0]) * frac]
        yr = padded(ally)
        common = dict(showticklabels=False, ticks="outside", ticklen=3.5, tickwidth=0.8,
                      tickcolor="black", showline=True, linecolor="black", linewidth=1,
                      showgrid=True, gridcolor="#9a9a9a", gridwidth=0.8, griddash="1px,1.5px",
                      zeroline=False, tick0=0, fixedrange=True)
        layout[f"xaxis{idx}"] = dict(common, domain=[left / W, right / W], range=xr,
                                     dtick=MEAN_STEP[r][c], anchor=ya, mirror=True)
        layout[f"yaxis{idx}"] = dict(common, domain=[1 - (top + PANEL_H) / H, 1 - top / H],
                                     range=yr, dtick=VAR_STEP[r][c], anchor=xa,
                                     mirror=(left + PANEL_W <= W))
        cx = px_x(PANEL_LEFT[c] + PANEL_W / 2)
        annotations.append(dict(text=LAYER_TITLES[c], x=cx, y=px_y(ROW_TOP[r] - 8.3), xref="paper",
                                yref="paper", showarrow=False, xanchor="center", yanchor="middle",
                                font=dict(family=SANS, size=14.5, color="black")))
        annotations.append(dict(text="Running Mean", x=cx, y=px_y(ROW_TOP[r] + PANEL_H + 13.5),
                                xref="paper", yref="paper", showarrow=False, xanchor="center",
                                yanchor="middle", font=dict(family=SANS, size=13.5, color="black")))
    annotations.append(dict(text="Running Variance", x=px_x(16), y=px_y(ROW_TOP[r] + PANEL_H / 2),
                            xref="paper", yref="paper", showarrow=False, textangle=-90,
                            xanchor="center", yanchor="middle",
                            font=dict(family=SANS, size=13.5, color="black")))
    annotations.append(dict(text=CAPTIONS[r], x=px_x(CAPTION_X[r]), y=px_y(CAPTION_Y[r]), xref="paper",
                            yref="paper", showarrow=False, xanchor="center", yanchor="middle",
                            font=dict(family=SERIF, size=22.5, color="black")))
    # legend frame (rounded box) and entries
    x0, x1 = px_x(39), px_x(117)
    y0, y1 = px_y(ROW_TOP[r] + 8), px_y(ROW_TOP[r] + 53)
    rx, ry = 3 / W, 3 / H
    path = (f"M{x0+rx},{y0} L{x1-rx},{y0} Q{x1},{y0} {x1},{y0-ry} L{x1},{y1+ry} Q{x1},{y1} {x1-rx},{y1} "
            f"L{x0+rx},{y1} Q{x0},{y1} {x0},{y1+ry} L{x0},{y0-ry} Q{x0},{y0} {x0+rx},{y0} Z")
    shapes.append(dict(type="path", path=path, xref="paper", yref="paper", layer="above",
                       fillcolor="rgba(255,255,255,0.8)", line=dict(color="#cccccc", width=1)))
    for name, _ in ROW_SERIES[r]:
        fig.add_trace(go.Scatter(x=[None], y=[None], mode="markers", name=name,
                                 xaxis=f"x{r*5+1}", yaxis=f"y{r*5+1}", legend=legend_names[r],
                                 marker=dict(color=COLORS[name], size=7, opacity=0.5)))
    layout[legend_names[r]] = dict(x=px_x(29), y=px_y(ROW_TOP[r] + 2.5), xanchor="left", yanchor="top",
                                   bgcolor="rgba(0,0,0,0)", borderwidth=0,
                                   font=dict(family=SANS, size=13.5, color="black"),
                                   itemwidth=30, tracegroupgap=0)

fig.update_layout(width=W, height=H, margin=dict(l=0, r=0, t=0, b=0),
                  paper_bgcolor="white", plot_bgcolor="white", annotations=annotations,
                  shapes=shapes, **layout)
# place the figure flush with the page corner (no default body margin), no mode bar
fig.write_html("out.html", config={"displayModeBar": False},
               post_script="document.body.style.margin='0px';")
